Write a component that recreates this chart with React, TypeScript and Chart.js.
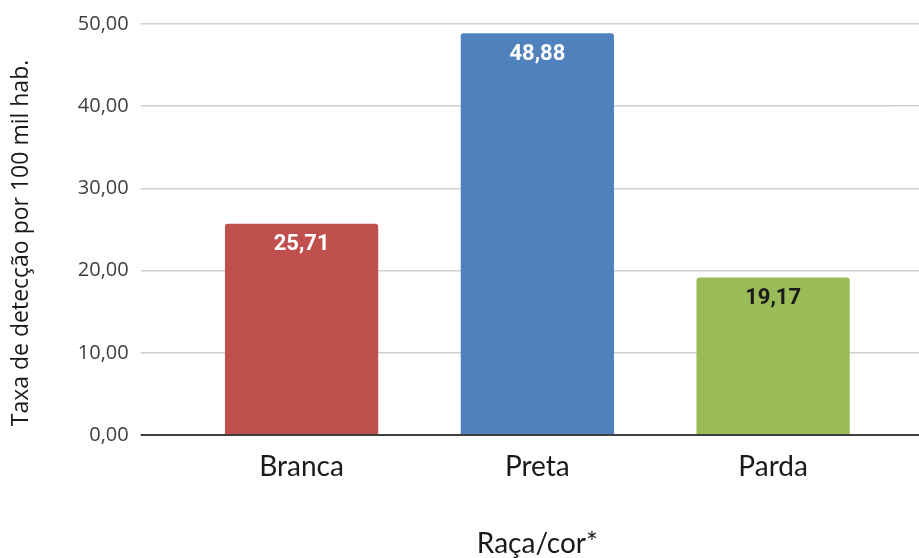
import React, { useEffect, useRef } from "react";
import { Chart, registerables } from "chart.js";

Chart.register(...registerables);

// Taxa de detecção por raça/cor (por 100 mil habitantes)
const categories = ["Branca", "Preta", "Parda"];
const rates = [25.71, 48.88, 19.17];
const barColors = ["#c0504d", "#4f81bd", "#9bbb59"];
const valueLabelColors = ["#ffffff", "#ffffff", "#1a1a1a"];
const yMin = 0;
const yMax = 50;
const yStep = 10;

const yTitleText = "Taxa de detecção por 100 mil hab.";
const xTitleText = "Raça/cor*";

const W = 919;
const H = 558;

const fmt = (v: number) => v.toFixed(2).replace(".", ",");

const gridColor = (ctx: any) => (ctx.tick && ctx.tick.value === 0 ? "#3f3f3f" : "#d0d0d0");
const gridWidth = (ctx: any) => (ctx.tick && ctx.tick.value === 0 ? 2 : 1.5);

// Writes each bar's value just inside its top edge
const valueLabels = {
  id: "valueLabels",
  afterDatasetsDraw(chart: any) {
    const { ctx } = chart;
    const meta = chart.getDatasetMeta(0);
    ctx.save();
    ctx.font = "bold 22px Roboto";
    ctx.textAlign = "center";
    ctx.textBaseline = "middle";
    meta.data.forEach((bar: any, i: number) => {
      ctx.fillStyle = valueLabelColors[i];
      ctx.fillText(fmt(rates[i]), bar.x, bar.y + 21);
    });
    ctx.restore();
  },
};

// Rotated y-axis caption along the left edge
const yCaption = {
  id: "yCaption",
  afterDraw(chart: any) {
    const { ctx } = chart;
    ctx.save();
    ctx.translate(21, 243);
    ctx.rotate(-Math.PI / 2);
    ctx.font = "23px 'Open Sans'";
    ctx.fillStyle = "#1a1a1a";
    ctx.textAlign = "center";
    ctx.textBaseline = "middle";
    ctx.fillText(yTitleText, 0, 0);
    ctx.restore();
  },
};

export default function App() {
  const canvasRef = useRef<HTMLCanvasElement | null>(null);

  useEffect(() => {
    if (!canvasRef.current) return;
    const chart = new Chart(canvasRef.current, {
      type: "bar",
      data: {
        labels: categories,
        datasets: [
          {
            data: rates,
            backgroundColor: barColors,
            borderRadius: 3,
            barPercentage: 0.65,
            categoryPercentage: 1,
          },
        ],
      },
      options: {
        responsive: false,
        animation: false,
        layout: { padding: { top: 23, left: 0, right: 0, bottom: 0 } },
        plugins: {
          legend: { display: false },
          tooltip: { enabled: false },
        },
        scales: {
          x: {
            type: "category",
            offset: true,
            grid: { display: false, drawTicks: false },
            border: { display: false },
            ticks: {
              padding: 15,
              color: "#1a1a1a",
              font: { family: "Lato", size: 28 },
            },
            title: {
              display: true,
              text: xTitleText,
              color: "#1a1a1a",
              font: { family: "Lato", size: 28, lineHeight: 1.0 },
              padding: { top: 0, bottom: 0 },
            },
            afterFit: (s: any) => {
              s.height = 123;
            },
          },
          y: {
            position: "left",
            min: yMin,
            max: yMax,
            ticks: {
              stepSize: yStep,
              padding: 12,
              color: "#404040",
              font: { family: "Open Sans", size: 20 },
              callback: (v: any) => fmt(Number(v)),
            },
            grid: {
              color: gridColor,
              lineWidth: gridWidth,
              tickLength: 43,
              drawTicks: true,
            },
            border: { display: false },
            afterFit: (s: any) => {
              s.width = 183.7;
            },
          },
          yRight: {
            position: "right",
            min: yMin,
            max: yMax,
            ticks: { stepSize: yStep, display: false },
            grid: {
              color: gridColor,
              lineWidth: gridWidth,
              tickLength: 28,
              drawTicks: true,
              drawOnChartArea: false,
            },
            border: { display: false },
            afterFit: (s: any) => {
              s.width = 28;
            },
          },
        },
      },
      plugins: [valueLabels, yCaption],
    });
    return () => chart.destroy();
  }, []);

  return (
    <div style={{ position: "absolute", left: 0, top: 0, width: W, height: H, background: "#ffffff" }}>
      <canvas ref={canvasRef} width={W} height={H} style={{ display: "block" }} />
    </div>
  );
}
